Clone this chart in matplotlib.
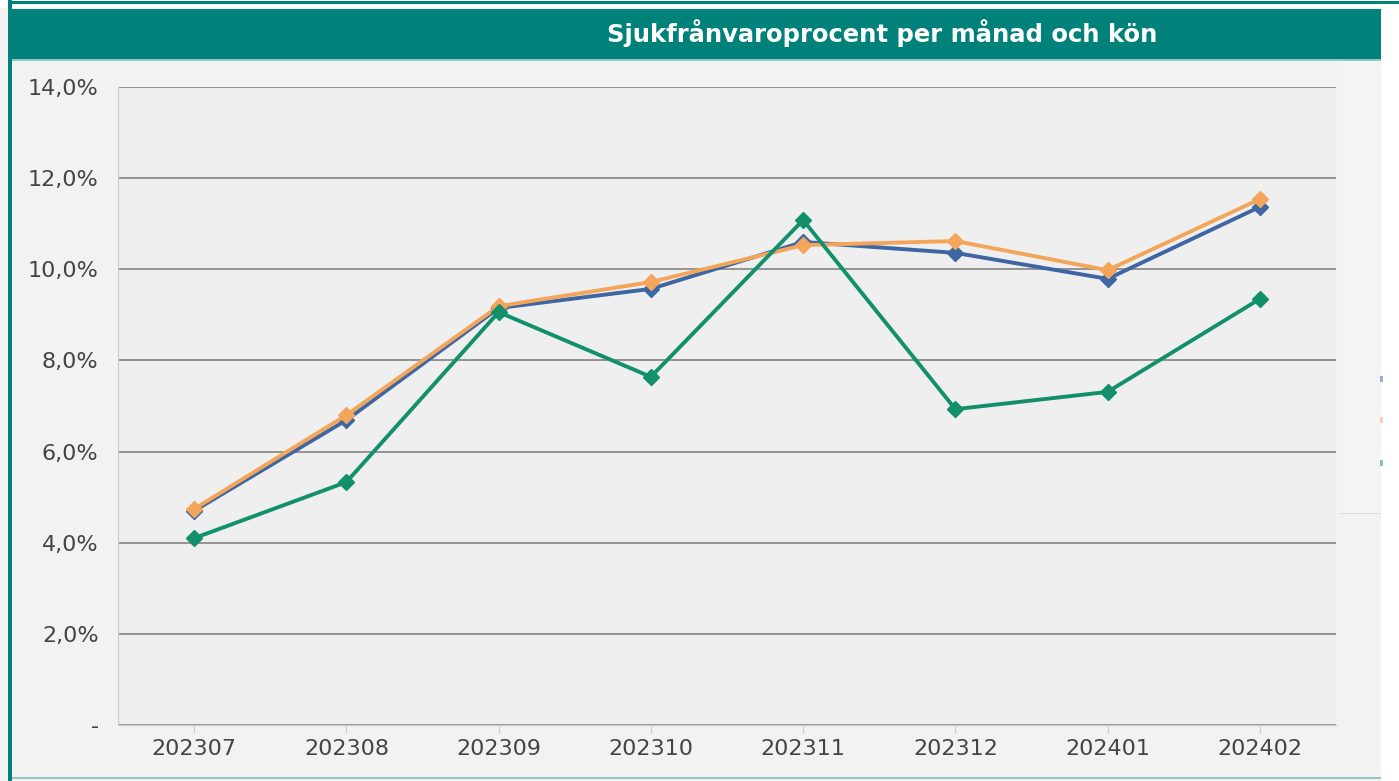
import matplotlib

matplotlib.use("Agg")

import matplotlib.pyplot as plt  # noqa: E402
from matplotlib.patches import Rectangle  # noqa: E402
from matplotlib.ticker import FuncFormatter  # noqa: E402

TITLE = "Sjukfrånvaroprocent per månad och kön"
MONTHS = ["202307", "202308", "202309", "202310", "202311", "202312", "202401", "202402"]
TOTAL = [4.70, 6.69, 9.15, 9.57, 10.60, 10.36, 9.79, 11.37]
WOMEN = [4.74, 6.80, 9.19, 9.72, 10.53, 10.62, 9.98, 11.54]
MEN = [4.10, 5.33, 9.06, 7.64, 11.08, 6.93, 7.31, 9.35]
Y_TICKS = [0, 2, 4, 6, 8, 10, 12, 14]

TEAL = "#00827a"
SERIES_COLORS = ["#3d66a3", "#f3a65a", "#12906c"]


def pct(v, _pos):
    if v == 0:
        return "-"
    return f"{v:.1f}%".replace(".", ",")


def main() -> None:
    W, H = 1399, 781
    fig = plt.figure(figsize=(W / 100, H / 100), dpi=100)
    fig.patch.set_facecolor("#f2f2f2")

    def box(x0, y0, x1, y1, **kw):
        fig.patches.append(Rectangle((x0 / W, 1 - y1 / H), (x1 - x0) / W, (y1 - y0) / H,
                                     transform=fig.transFigure, **kw))

    # frame and title bar
    box(0, 0, W, 8, color="white", lw=0)
    box(8, 1, W, 4, color=TEAL, lw=0)
    box(8, 0, 12, H, color=TEAL, lw=0)
    box(12, 9, 1381, 59, color=TEAL, lw=0)
    box(12, 59, 1381, 61, color="#8ec9c3", lw=0)
    box(1381, 4, W, H, color="white", lw=0)
    box(1338, 61, 1381, 514, color="#f4f4f4", lw=0)
    box(1338, 513, 1381, 514, color="#dddddd", lw=0)
    box(12, 777, 1381, 779, color="#8ec9c3", lw=0)
    for yy, c in zip([379, 420, 463], SERIES_COLORS):
        box(1380, yy - 3, 1383, yy + 3, color=c, lw=0, alpha=0.5)

    fig.text(882 / W, 1 - 33 / H, TITLE, ha="center", va="center", color="white",
             fontsize=17.5, fontweight="bold", family=["Liberation Sans Narrow", "DejaVu Sans"])

    ax = fig.add_axes([118 / W, 1 - 725 / H, (1336 - 118) / W, (725 - 87) / H])
    ax.set_facecolor("#efefef")
    x = range(len(MONTHS))
    for vals, c in zip([TOTAL, WOMEN, MEN], SERIES_COLORS):
        ax.plot(x, vals, color=c, lw=2.8, marker="D", markersize=8.5, zorder=3)

    ax.set_xlim(-0.5, len(MONTHS) - 0.5)
    ax.set_ylim(0, 14)
    ax.set_yticks(Y_TICKS)
    ax.yaxis.set_major_formatter(FuncFormatter(pct))
    ax.set_xticks(list(x))
    ax.set_xticklabels(MONTHS)
    ax.grid(axis="y", color="#8c8c8c", lw=1.3)
    ax.set_axisbelow(True)
    for side in ["top", "right"]:
        ax.spines[side].set_visible(False)
    for side in ["left", "bottom"]:
        ax.spines[side].set_color("#cccccc")
    ax.tick_params(axis="y", length=0, pad=14, labelsize=16, labelcolor="#444444")
    ax.tick_params(axis="x", length=6, color="#cccccc", pad=4, labelsize=16,
                   labelcolor="#444444")

    fig.savefig("out.png", dpi=100, facecolor=fig.get_facecolor())
    plt.close(fig)


if __name__ == "__main__":
    main()
